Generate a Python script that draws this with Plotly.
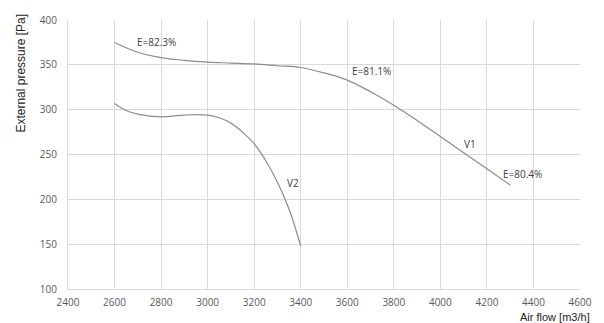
import plotly.graph_objects as go

# V1 curve
v1_x = [2600, 2700, 2800, 2900, 3000, 3100, 3200, 3300, 3400, 3500, 3600, 3700, 3800, 3900, 4000, 4100, 4200, 4300]
v1_y = [375, 364, 358, 355, 353, 352, 351, 349, 347, 341, 333, 320, 305, 288, 270, 252, 234, 216]

# V2 curve
v2_x = [2600, 2650, 2700, 2800, 2900, 3000, 3050, 3100, 3150, 3200, 3250, 3300, 3350, 3400]
v2_y = [307, 299, 295, 292, 294, 294, 291, 285, 275, 262, 243, 219, 189, 148]

# labels
ann_text = ["E=82.3%", "E=81.1%", "V1", "E=80.4%", "V2"]
ann_x = [2780, 3703, 4129, 4353, 3368]
ann_y = [376, 343, 262, 228, 218]

x_ticks = list(range(2400, 4601, 200))
y_ticks = list(range(100, 401, 50))

fig = go.Figure()
for xs, ys in [(v1_x, v1_y), (v2_x, v2_y)]:
    fig.add_trace(go.Scatter(x=xs, y=ys, mode="lines", line=dict(color="#8c8c8c", width=1.2, shape="spline"),
                             showlegend=False, hoverinfo="skip"))

for t, x, y in zip(ann_text, ann_x, ann_y):
    fig.add_annotation(x=x, y=y, text=t, showarrow=False,
                       font=dict(family="Open Sans, Liberation Sans, Arial", size=10, color="#404040"))

fig.add_annotation(xref="paper", yref="paper", x=0.952, y=-0.074, xanchor="center", yanchor="top",
                   text="Air flow [m3/h]", showarrow=False,
                   font=dict(family="Liberation Sans, Arial", size=11, color="#222222"))

fig.add_annotation(xref="paper", yref="paper", x=-0.092, y=0.804, xanchor="center", yanchor="middle",
                   text="External pressure [Pa]", showarrow=False, textangle=-90,
                   font=dict(family="Liberation Sans, Arial", size=12, color="#222222"))

fig.update_layout(
    width=604, height=323,
    margin=dict(l=68, r=14, t=18, b=34),
    paper_bgcolor="white", plot_bgcolor="white",
    font=dict(family="Open Sans, Liberation Sans, Arial", size=10, color="#595959"),
)
fig.update_xaxes(range=[2400, 4600], tickvals=x_ticks, showgrid=True, gridcolor="#d9d9d9", gridwidth=1,
                 zeroline=False, showline=True, linecolor="#d9d9d9", mirror=False,
                 ticks="outside", ticklen=4, tickcolor="white",
                 tickfont=dict(size=10, color="#595959"))
fig.update_yaxes(range=[100, 400], tickvals=y_ticks, showgrid=True, gridcolor="#d9d9d9", gridwidth=1,
                 zeroline=False, showline=True, linecolor="#d9d9d9",
                 ticks="outside", ticklen=8, tickcolor="white",
                 tickfont=dict(size=10, color="#595959"))

fig.write_html("out.html")
